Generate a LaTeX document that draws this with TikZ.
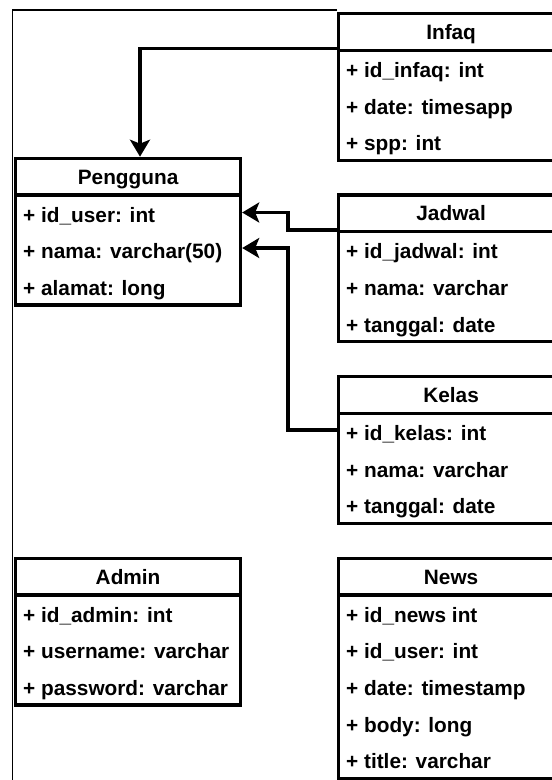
\documentclass[tikz,border=0pt]{standalone}
\usepackage{fontspec}
\setmainfont{Liberation Sans}
\usetikzlibrary{arrows.meta}
\newcommand\umlbox[6]{%
  \node[hdr] (#1H) at (#2,#3) {#4};
  \node[bodybox, minimum height=#5*36.67pt] (#1B) at (#2,#3+36.67) {};
  \foreach \t [count=\i] in {#6} {
    \node[rowtxt] (#1R\i) at (#2+9,#3+65.5+36.67*\i-36.67) {\t};
  }%
}
\begin{document}
\begin{tikzpicture}[x=1pt,y=-1pt,
  txt/.style={font=\fontsize{20.8}{24}\selectfont\bfseries, text=black},
  hdr/.style={draw=black, line width=3.2pt, fill=white, anchor=north west,
    minimum width=225pt, minimum height=36.67pt, inner sep=0pt,
    text height=15pt, text depth=0pt, txt},
  bodybox/.style={draw=black, line width=3.2pt, fill=white, anchor=north west,
    minimum width=225pt, inner sep=0pt},
  rowtxt/.style={anchor=base west, inner sep=0pt, txt},
  frame/.style={draw=black, line width=1.3pt},
  conn/.style={draw=black, line width=3.2pt, -{Stealth[length=17pt,width=20pt,inset=4pt]}}
]
\useasboundingbox (0,0) rectangle (552,780);
\clip (0,0) rectangle (552,780);
\fill[white] (0,0) rectangle (552,780);

% open frame
\coordinate (f1) at (337,10);
\coordinate (f2) at (12.5,10);
\coordinate (f3) at (12.5,800);
\draw[frame] (f1) -- (f2) -- (f3);

% class boxes
\umlbox{inf}{337}{12}{Infaq}{3}{{+ id\_infaq: int},{+ date: timesapp},{+ spp: int}}
\umlbox{pen}{14}{156.7}{Pengguna}{3}{{+ id\_user: int},{+ nama: varchar(50)},{+ alamat: long}}
\umlbox{jad}{337}{193.3}{Jadwal}{3}{{+ id\_jadwal: int},{+ nama: varchar},{+ tanggal: date}}
\umlbox{kel}{337}{375}{Kelas}{3}{{+ id\_kelas: int},{+ nama: varchar},{+ tanggal: date}}
\umlbox{adm}{14}{556.7}{Admin}{3}{{+ id\_admin: int},{+ username: varchar},{+ password: varchar}}
\umlbox{new}{337}{556.7}{News}{5}{{+ id\_news int},{+ id\_user: int},{+ date: timestamp},{+ body: long},{+ title: varchar}}

% connectors
\coordinate (k1) at (140,48.7);
\draw[conn] (infH.west |- k1) -- (k1) -- (k1 |- penH.north);

\coordinate (k2) at (288,230);
\coordinate (k3) at (288,212.5);
\draw[conn] (jadH.west |- k2) -- (k2) -- (k3) -- (k3 -| penB.east);

\coordinate (k4) at (288,430);
\coordinate (k5) at (288,248);
\draw[conn] (kelB.west |- k4) -- (k4) -- (k5) -- (k5 -| penB.east);
\end{tikzpicture}
\end{document}
